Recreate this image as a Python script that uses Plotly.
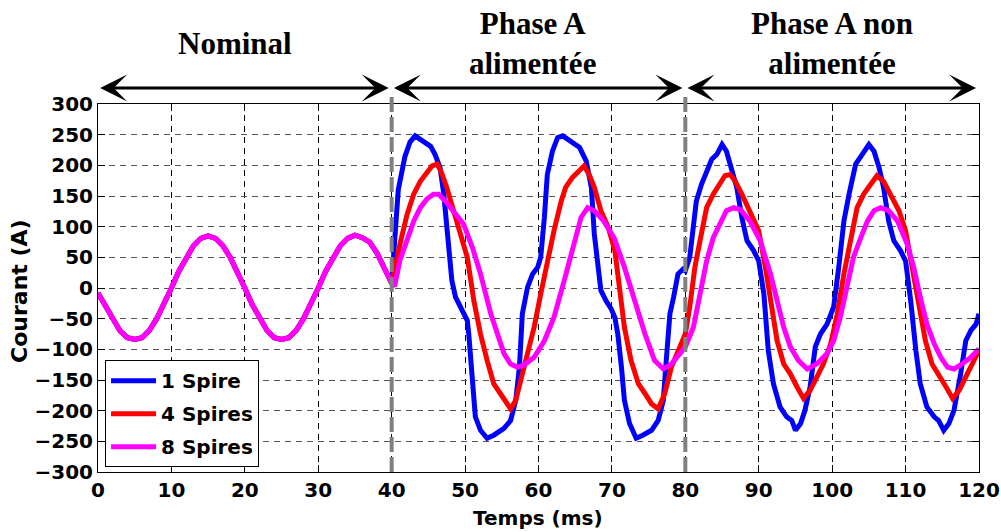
import plotly.graph_objects as go

# ---------------- data ----------------
# Nominal regime (identical for the three windings)
t_nominal = [0, 1, 2, 3, 4, 5, 6, 7, 8, 9, 10, 11, 12, 13, 14, 15, 16, 17, 18, 19, 20,
             21, 22, 23, 24, 25, 26, 27, 28, 29, 30, 31, 32, 33, 34, 35, 36, 37, 38, 39, 39.5, 40.0]
i_nominal = [-8, -30, -52, -70, -81, -84, -81, -69, -50, -27, 0, 27, 50, 69, 81, 85, 81, 69, 50, 27, 0,
             -27, -50, -69, -81, -84, -81, -69, -50, -27, 0, 27, 50, 69, 81, 86, 82, 75, 57, 35, 20, 8]

# 1 Spire (40 -> 120 ms)
t_1spire = [40.45, 40.9, 41.8, 42.5, 43.2, 44.3, 45.3, 45.9, 46.6, 47.1, 47.5, 47.8, 48.2, 48.7, 49.6,
            50.3, 50.5, 51.0, 51.4, 52.1, 53.0, 53.9, 55.3, 56.2, 56.9, 57.4, 57.8, 58.5, 59.2, 59.9,
            60.3, 60.8, 61.2, 61.9, 62.6, 63.3, 64.4, 65.6, 66.5, 67.2, 67.6, 68.1, 68.5, 69.2, 69.9,
            70.4, 70.8, 71.3, 71.7, 72.4, 73.3, 74.2, 75.4, 76.3, 77.0, 77.4, 77.9, 78.4, 79.0, 79.7,
            80.0, 80.6, 81.1, 81.5, 82.2, 82.9, 83.6, 84.3, 85.0, 85.6, 86.3, 87.0, 87.7, 88.4, 89.3,
            90.0, 90.7, 91.3, 92.0, 92.9, 93.8, 94.5, 95.0, 95.7, 96.3, 97.0, 97.7, 98.4, 99.3,
            100.2, 100.9, 101.6, 102.3, 103.2, 104.1, 105.0, 105.7, 106.4, 107.0, 107.7, 108.4, 109.3,
            110.0, 110.7, 111.4, 112.0, 112.9, 113.9, 114.5, 115.2, 115.9, 116.6, 117.5, 118.2, 118.9,
            119.6, 120.0]
i_1spire = [95, 160, 214, 238, 248, 239, 231, 218, 196, 153, 99, 44, 12, -15, -37,
            -53, -75, -156, -210, -232, -245, -240, -229, -216, -183, -129, -42, 1, 23, 34,
            50, 115, 185, 223, 245, 248, 239, 229, 207, 164, 88, 34, -4, -21, -34,
            -48, -75, -129, -183, -221, -245, -240, -232, -216, -183, -118, -42, -15, 23, 31,
            28, 50, 99, 142, 169, 191, 210, 218, 234, 223, 196, 164, 115, 77, 61,
            44, -10, -102, -156, -194, -210, -216, -232, -221, -199, -161, -96, -75, -59,
            -31, 34, 109, 153, 202, 218, 234, 223, 196, 164, 109, 77, 61,
            44, -21, -102, -156, -194, -210, -216, -232, -221, -199, -140, -86, -69,
            -59, -42]

# 4 Spires
t_4spires = [40.6, 41.2, 42.1, 43.0, 43.9, 44.8, 45.5, 46.2, 46.8, 47.5, 48.4, 49.3, 50.3, 51.2, 52.1,
             53.0, 53.9, 54.8, 55.5, 56.2, 56.9, 57.6, 58.5, 59.4, 60.3, 61.2, 62.1, 63.1, 63.7, 64.6,
             65.5, 66.2, 66.9, 67.6, 68.5, 69.5, 70.4, 71.1, 71.7, 72.6, 73.6, 74.5, 75.4, 76.3, 77.2,
             78.1, 79.0, 80.0, 80.6, 81.3, 82.0, 82.9, 83.8, 84.7, 85.4, 86.1, 86.8, 87.7, 88.8, 90.0,
             90.9, 91.6, 92.5, 93.4, 94.3, 95.2, 96.1, 97.0, 97.9, 98.8, 99.8, 100.7, 101.6, 102.5,
             103.4, 104.3, 105.2, 106.1, 107.0, 107.9, 109.1, 110.0, 110.9, 111.8, 112.7, 113.6,
             114.5, 115.5, 116.4, 117.3, 118.4, 119.3, 120.0]
i_4spires = [45, 75, 120, 153, 174, 188, 199, 202, 188, 164, 126, 93, 50, -21, -75,
             -118, -156, -172, -186, -197, -183, -151, -107, -64, -10, 44, 93, 142, 164, 180,
             191, 199, 185, 164, 126, 99, 61, 1, -64, -118, -156, -172, -189, -197, -172,
             -129, -102, -75, -31, 34, 77, 131, 153, 169, 183, 185, 174, 153, 126, 93,
             34, -21, -86, -124, -140, -161, -180, -167, -145, -124, -91, -42, 23, 77,
             131, 153, 169, 183, 174, 153, 126, 93, 34, -31, -86, -124,
             -140, -161, -180, -167, -140, -118, -102]

# 8 Spires
t_8spires = [40.4, 41.1, 42.1, 43.0, 43.9, 44.8, 45.7, 46.4, 47.3, 48.4, 49.8, 51.0, 52.1, 53.5, 54.4,
             55.3, 56.2, 57.1, 58.0, 59.4, 60.8, 62.1, 63.5, 64.9, 65.8, 66.7, 67.6, 68.9, 70.3, 71.7,
             73.1, 74.5, 75.8, 77.0, 78.1, 79.3, 80.0, 81.1, 82.0, 82.9, 83.8, 84.7, 85.6, 86.6, 87.5,
             88.8, 90.2, 91.6, 92.5, 93.4, 94.3, 95.4, 96.6, 97.9, 99.3, 100.2, 101.1, 102.0, 102.9,
             103.9, 104.8, 105.7, 106.6, 107.7, 108.9, 110.2, 111.1, 112.0, 112.9, 113.9, 114.8,
             115.7, 116.6, 117.7, 118.9, 120.0]
i_8spires = [3, 44, 77, 109, 131, 145, 153, 153, 142, 126, 104, 66, 23, -42, -75,
             -107, -124, -129, -126, -113, -86, -48, 12, 77, 115, 131, 126, 109, 82, 34,
             -21, -75, -118, -132, -124, -107, -96, -64, -10, 44, 82, 104, 126, 131, 128,
             109, 77, 23, -21, -64, -96, -118, -132, -124, -107, -86, -48, 1, 50,
             82, 109, 126, 131, 126, 109, 72, 34, -15, -59, -91, -113,
             -129, -132, -124, -113, -99]

series_names = ["1 Spire", "4 Spires", "8 Spires"]
series_colors = ["#0000FF", "#FF0000", "#FF00FF"]
series_t = [t_1spire, t_4spires, t_8spires]
series_i = [i_1spire, i_4spires, i_8spires]

x_ticks = [0, 10, 20, 30, 40, 50, 60, 70, 80, 90, 100, 110, 120]
y_ticks = [-300, -250, -200, -150, -100, -50, 0, 50, 100, 150, 200, 250, 300]

phase_bounds = [0, 40, 80, 120]
phase_labels = ["Nominal", "Phase A<br>alimentée", "Phase A non<br>alimentée"]
phase_label_x = [18.7, 59.2, 100.0]

x_title = "Temps (ms)"
y_title = "Courant (A)"

# ---------------- figure ----------------
fig = go.Figure()
for name, col, t, i in zip(series_names, series_colors, series_t, series_i):
    fig.add_trace(go.Scatter(
        x=t_nominal + t, y=i_nominal + i, mode="lines", name=name, legendgroup=name,
        line=dict(color=col, width=5),
    ))

SANS = "DejaVu Sans, Liberation Sans, Arial, sans-serif"
tick_font = dict(family=SANS, size=20, color="black", weight="bold")

fig.update_layout(
    width=1001, height=532,
    margin=dict(l=98, r=22, t=104, b=60, autoexpand=False),
    paper_bgcolor="white", plot_bgcolor="white",
    showlegend=True,
    legend=dict(
        x=0.008, y=0.304, xanchor="left", yanchor="top",
        bgcolor="white", bordercolor="black", borderwidth=1,
        font=dict(family=SANS, size=20, color="black", weight="bold"),
        tracegroupgap=4, itemwidth=45,
    ),
    xaxis=dict(
        range=[0, 120], tickvals=x_ticks, automargin=False,
        showgrid=True, gridcolor="black", gridwidth=1, griddash="6px,5px",
        showline=True, linecolor="black", linewidth=1, mirror="ticks",
        ticks="inside", ticklen=7, tickcolor="black", tickwidth=1,
        tickfont=tick_font, zeroline=False,
    ),
    yaxis=dict(
        range=[-300, 300], tickvals=y_ticks, automargin=False,
        showgrid=True, gridcolor="#555555", gridwidth=1, griddash="6px,5px",
        showline=True, linecolor="black", linewidth=1, mirror="ticks",
        ticks="inside", ticklen=7, tickcolor="black", tickwidth=1,
        tickfont=tick_font, zeroline=False,
    ),
)

# axis titles
fig.add_annotation(xref="paper", yref="paper", x=0.4994, y=-0.125, text=x_title,
                   showarrow=False, xanchor="center", yanchor="middle",
                   font=dict(family=SANS, size=20, color="black", weight="bold"))
fig.add_annotation(xref="paper", yref="paper", x=-0.0885, y=0.492, text=y_title, textangle=-90,
                   showarrow=False, xanchor="center", yanchor="middle",
                   font=dict(family=SANS, size=22, color="black", weight="bold"))

# phase separators
for xb in phase_bounds[1:3]:
    fig.add_shape(type="line", xref="x", yref="paper", x0=xb, x1=xb, y0=0, y1=1.03,
                  line=dict(color="#808080", width=4, dash="15px,5px"), layer="above")

# double-headed arrows and labels
for k in range(3):
    a, b = phase_bounds[k], phase_bounds[k + 1]
    fig.add_annotation(
        xref="x", yref="paper", x=b - 0.4, y=1.0435, axref="x", ayref="pixel",
        ax=a + 0.1, ay=0, showarrow=True, arrowhead=3, arrowside="end+start",
        arrowsize=1.5, arrowwidth=3, arrowcolor="black", text="",
        standoff=0, startstandoff=0,
    )
    fig.add_annotation(
        xref="x", yref="paper", x=phase_label_x[k], y=1.165, text=phase_labels[k],
        showarrow=False, xanchor="center", yanchor="middle",
        font=dict(family="Liberation Serif, Times New Roman, serif", size=31, color="black",
                  weight="bold"),
    )

# remove the default 8px page margin so the 1001x532 figure fills the window exactly
fig.write_html("out.html", config={"displayModeBar": False},
               post_script="document.body.style.margin='0px';")
